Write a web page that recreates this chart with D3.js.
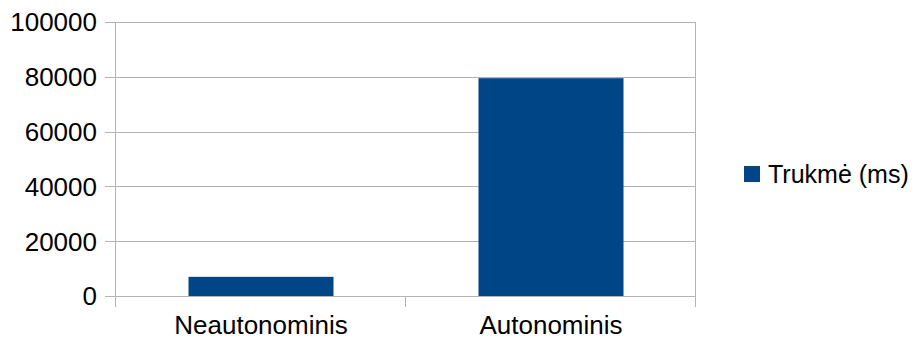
<!DOCTYPE html>
<html>
<head>
<meta charset="utf-8">
<script src="https://cdn.jsdelivr.net/npm/d3@7"></script>
<style>
  body { margin: 0; background: #fff; }
  svg { display: block; font-family: "Liberation Sans", Arial, sans-serif; }
</style>
</head>
<body>
<svg id="chart"></svg>
<script>
// chart data
var categories = ["Neautonominis", "Autonominis"];
var durations = [7000, 79500];
var seriesName = "Trukmė (ms)";
var yTicks = [0, 20000, 40000, 60000, 80000, 100000];

var W = 919, H = 341;
var margin = { top: 22, right: 223, bottom: 45, left: 116 };
var width = W - margin.left - margin.right;   // 580
var height = H - margin.top - margin.bottom;  // 274

var svg = d3.select("#chart")
    .attr("width", W)
    .attr("height", H);

var g = svg.append("g")
    .attr("transform", "translate(" + margin.left + "," + margin.top + ")");

var xScale = d3.scaleBand()
    .domain(categories)
    .range([0, width])
    .paddingInner(0)
    .paddingOuter(0);

var yScale = d3.scaleLinear()
    .domain([0, 100000])
    .range([height, 0]);

var gridColor = "#b3b3b3";

// horizontal gridlines + left ticks
g.append("g")
    .selectAll("line")
    .data(yTicks)
    .join("line")
    .attr("x1", -11)
    .attr("x2", width)
    .attr("y1", function(d) { return Math.round(yScale(d)) + 0.5; })
    .attr("y2", function(d) { return Math.round(yScale(d)) + 0.5; })
    .attr("stroke", gridColor)
    .attr("stroke-width", 1);

// y tick labels
g.append("g")
    .selectAll("text")
    .data(yTicks)
    .join("text")
    .attr("x", -19)
    .attr("y", function(d) { return yScale(d); })
    .attr("dy", "0.36em")
    .attr("text-anchor", "end")
    .style("font-size", "26px")
    .attr("fill", "#000")
    .text(function(d) { return d; });

// vertical lines: axis, category separators, right edge
var vx = [0].concat(categories.map(function(c) { return xScale(c) + xScale.bandwidth(); }));
g.append("g")
    .selectAll("line")
    .data(vx)
    .join("line")
    .attr("x1", function(d) { return Math.round(d) - 0.5; })
    .attr("x2", function(d) { return Math.round(d) - 0.5; })
    .attr("y1", function(d, i) { return (i === 0 || i === vx.length - 1) ? 0 : height; })
    .attr("y2", height + 11)
    .attr("stroke", gridColor)
    .attr("stroke-width", 1);

// bars
g.append("g")
    .selectAll("rect")
    .data(durations)
    .join("rect")
    .attr("x", function(d, i) { return xScale(categories[i]) + xScale.bandwidth() * 0.25; })
    .attr("width", xScale.bandwidth() * 0.5)
    .attr("y", function(d) { return yScale(d); })
    .attr("height", function(d) { return height - yScale(d); })
    .attr("fill", "#004586");

// category labels
g.append("g")
    .selectAll("text")
    .data(categories)
    .join("text")
    .attr("x", function(d) { return xScale(d) + xScale.bandwidth() / 2; })
    .attr("y", height + 38)
    .attr("text-anchor", "middle")
    .style("font-size", "26px")
    .attr("fill", "#000")
    .text(function(d) { return d; });

// legend
var legend = svg.append("g").attr("transform", "translate(744,166)");
legend.append("rect")
    .attr("width", 16)
    .attr("height", 16)
    .attr("fill", "#004586");
legend.append("text")
    .attr("x", 24)
    .attr("y", 17)
    .style("font-size", "25px")
    .attr("fill", "#000")
    .text(seriesName);
</script>
</body>
</html>
